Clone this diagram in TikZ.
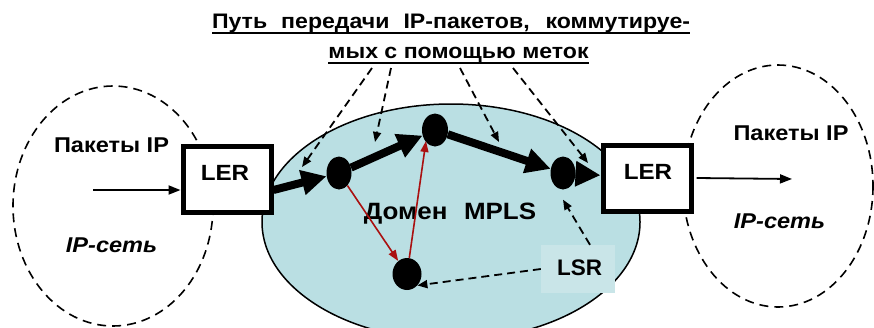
\documentclass[tikz,border=0pt]{standalone}
\usepackage{fontspec}
\setmainfont{Liberation Sans}[FakeStretch=1.1]
\newfontfamily\plainfont{Liberation Sans}
\newfontfamily\titlefont{Liberation Sans Bold}[FakeStretch=1.1]
\usetikzlibrary{arrows.meta,shapes.geometric}
\definecolor{domain}{RGB}{186,223,227}
\definecolor{lsrbox}{RGB}{201,229,232}
\definecolor{redarr}{RGB}{170,16,16}
\newcommand\ulline[1]{\setbox0\hbox{#1}\rlap{\rule[-5.5pt]{\wd0}{2pt}}\box0}
\tikzset{
  lbl/.style={font=\fontsize{21.4}{24}\selectfont\bfseries, inner sep=0pt, anchor=base},
  netcloud/.style={draw, line width=1.6pt, dash pattern=on 9pt off 6pt},
  lerbox/.style={draw, line width=5pt, fill=white, minimum width=88pt, minimum height=66pt, inner sep=0pt, font=\fontsize{22}{24}\selectfont\bfseries},
  router/.style={ellipse, fill=black, inner sep=0pt},
  patharrow/.style={line width=8pt, -{Triangle[length=25pt,width=24pt]}},
  redarrow/.style={draw=redarr, line width=1.6pt, -{Triangle[length=11pt,width=8pt]}},
  dasharrow/.style={line width=1.8pt, dash pattern=on 8pt off 5pt, -{Triangle[length=10pt,width=8pt]}},
  thinarrow/.style={line width=1.8pt, -{Triangle[length=12pt,width=9pt]}},
}
\begin{document}
\begin{tikzpicture}[x=1pt,y=-1pt]
\useasboundingbox (0,0) rectangle (874,327);
% IP clouds
\draw[netcloud] (113,206) ellipse [x radius=100, y radius=120];
\draw[netcloud] (778,186) ellipse [x radius=95, y radius=121];
% MPLS domain
\draw[fill=domain, line width=1.5pt] (451,222) ellipse [x radius=189, y radius=118];
% LSR label
\node[fill=lsrbox, minimum width=74pt, minimum height=48pt, inner sep=0pt] (lsr) at (578,269) {};
\node[inner sep=0pt, anchor=base, font=\fontsize{22.5}{24}\selectfont\bfseries\plainfont] (lsrt) at (579.5,275) {LSR};
% LER boxes
\node[lerbox] (ler1) at (227,179) {};
\node[lerbox] (ler2) at (647,178) {};
% routers
\node[router, minimum width=25pt, minimum height=33pt] (n1) at (339,173) {};
\node[router, minimum width=26pt, minimum height=33pt] (n2) at (435,130) {};
\node[router, minimum width=25pt, minimum height=33pt] (n3) at (563,173) {};
\node[router, minimum width=29pt, minimum height=32pt] (n4) at (407,274) {};
% texts
\node[lbl] (pl) at (111.5,152) {Пакеты IP};
\node[lbl] (pr) at (791,140) {Пакеты IP};
\node[lbl, font=\fontsize{21.4}{24}\selectfont\bfseries\itshape] (il) at (111.5,252) {IP-сеть};
\node[lbl, font=\fontsize{21.4}{24}\selectfont\bfseries\itshape] (ir) at (779.5,228) {IP-сеть};
\node[lbl, font=\fontsize{23.6}{26}\selectfont\bfseries] (dom) at (450,219) {Домен\hspace{0.7em}MPLS};
\node[lbl, font=\titlefont\fontsize{21}{24}\selectfont] (t1) at (451,28) {\ulline{\makebox[478pt][s]{Путь передачи IP-пакетов, коммутируе-}}};
\node[lbl, font=\titlefont\fontsize{21}{24}\selectfont] (t2) at (458.5,58) {\ulline{мых с помощью меток}};
% thin IP arrows
\coordinate (inL) at (93,190);
\coordinate (outR) at (792,179);
\draw[thinarrow] (inL) -- (ler1.west |- inL);
\draw[thinarrow] ([xshift=3pt]ler2.east) -- (outR);
% label-switched path
\draw[patharrow] ([yshift=-11pt]ler1.east) -- (n1);
\draw[patharrow] (n1) -- (n2);
\draw[patharrow] (n2) -- (n3);
\draw[patharrow] (n3) -- (ler2);
\node[lerbox] at (ler1) {};
\node[lerbox] at (ler2) {};
\node[lbl, font=\fontsize{22}{24}\selectfont\bfseries] (lt1) at (225,180) {LER};
\node[lbl, font=\fontsize{22}{24}\selectfont\bfseries] (lt2) at (648,179) {LER};
% red alternate path
\draw[redarrow] (n1) -- (n4);
\draw[redarrow] (n4) -- ([xshift=-9pt,yshift=-11pt]n2.center);
% dashed pointers from title
\coordinate (s1) at (372,68);
\coordinate (s2) at (391,68);
\coordinate (s3) at (460,68);
\coordinate (s4) at (513,68);
\coordinate (e1) at (302,167);
\coordinate (e2) at (375,142);
\coordinate (e3) at (499,142);
\coordinate (e4) at (588,163);
\draw[dasharrow] (s1) -- (e1);
\draw[dasharrow] (s2) -- (e2);
\draw[dasharrow] (s3) -- (e3);
\draw[dasharrow] (s4) -- (e4);
% LSR pointers
\draw[dasharrow] ([xshift=12pt]lsr.north) -- ([yshift=-10pt]n3.south);
\draw[dasharrow] (lsr.west) -- (n4.south east);
\end{tikzpicture}
\end{document}
